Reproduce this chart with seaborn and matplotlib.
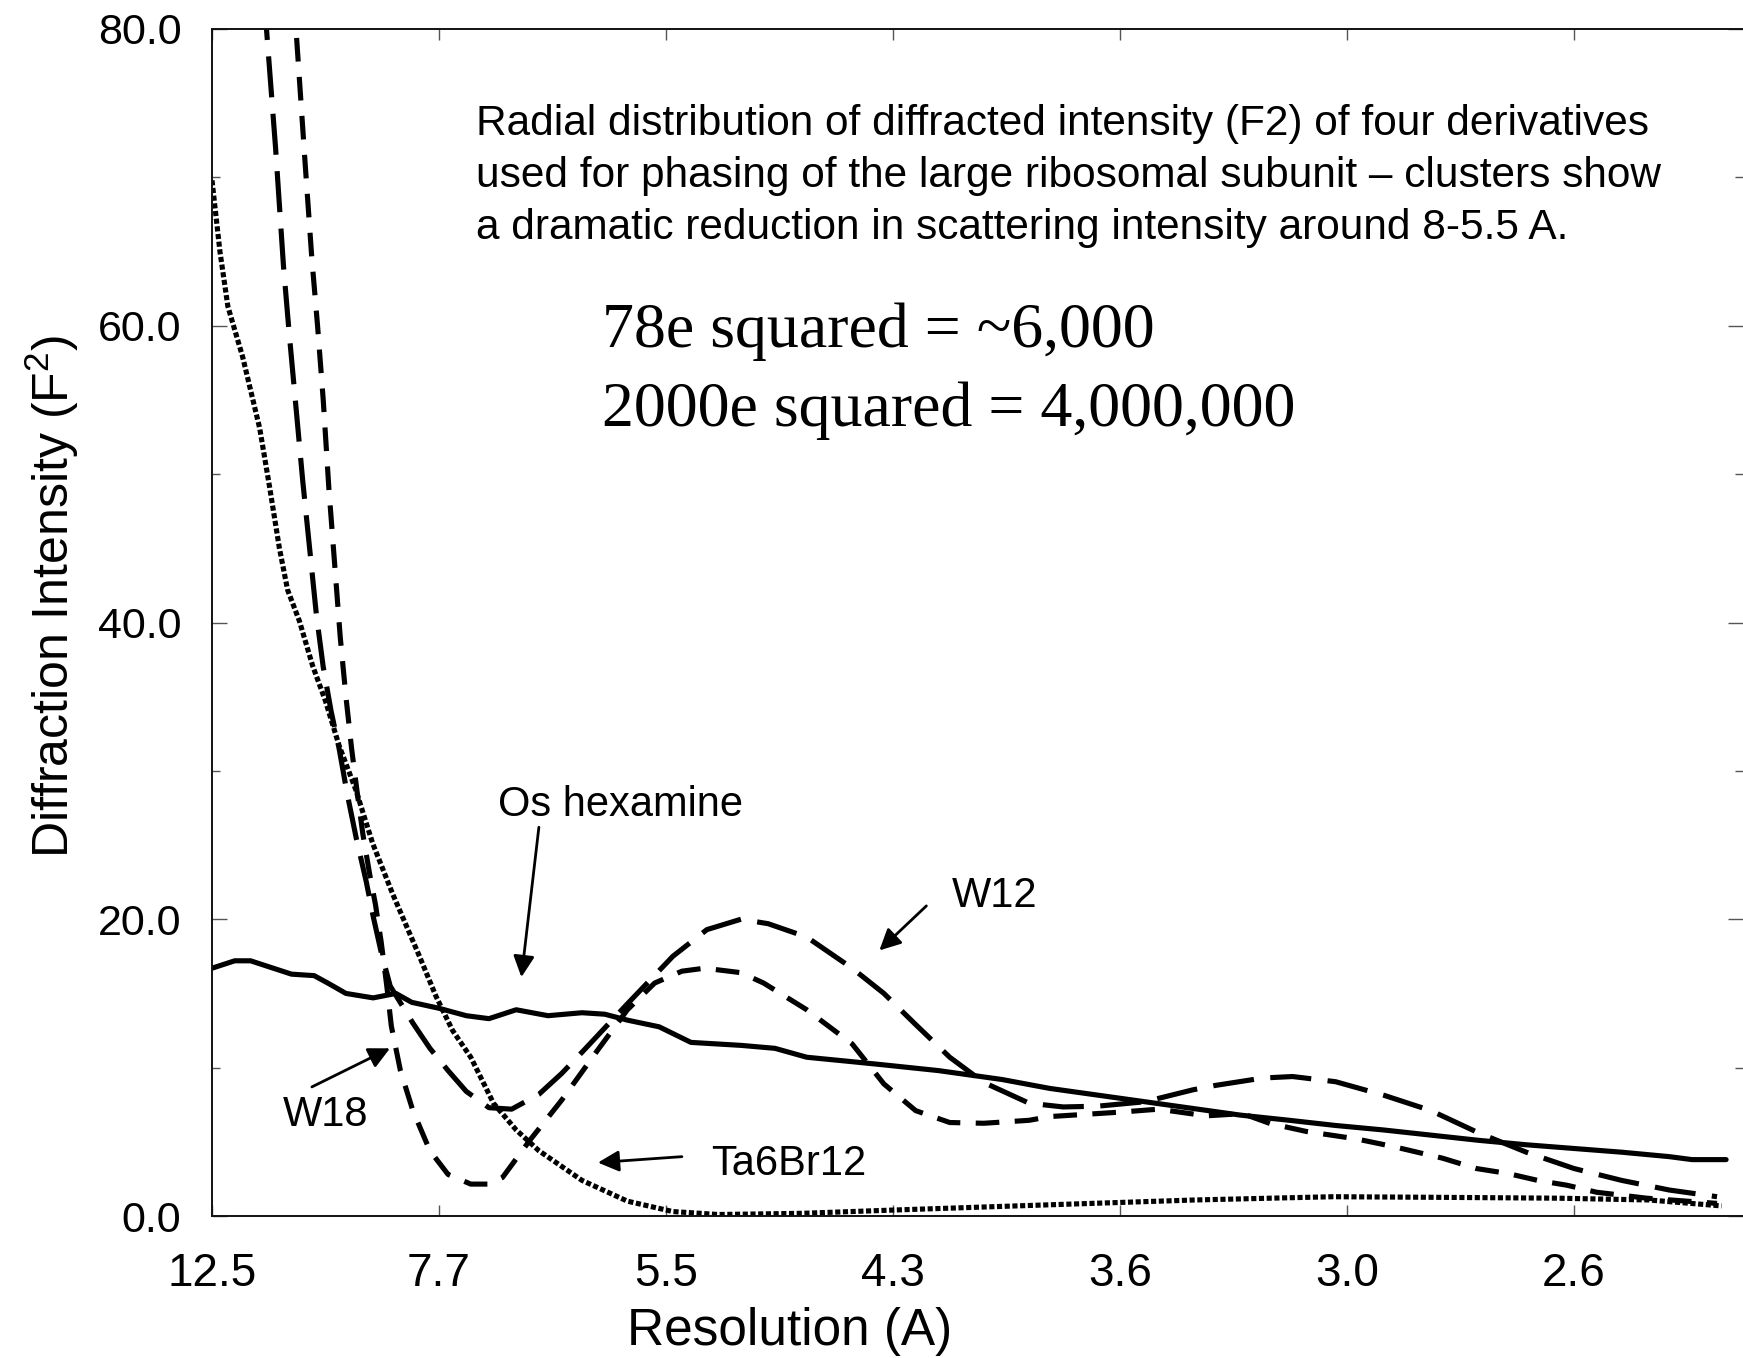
import numpy as np
import pandas as pd
import matplotlib
matplotlib.use("Agg")
import matplotlib.pyplot as plt
import seaborn as sns

# x positions are tick indices (equal steps in 1/d), labels are resolution in A
res_labels = ['12.5', '7.7', '5.5', '4.3', '3.6', '3.0', '2.6']
y_labels = ['0.0', '20.0', '40.0', '60.0', '80.0']

os_x = [0.0, 0.1, 0.17, 0.25, 0.35, 0.45, 0.51, 0.59, 0.71, 0.81, 0.88, 1.0, 1.12, 1.22,
        1.34, 1.48, 1.63, 1.73, 1.83, 1.97, 2.11, 2.33, 2.48, 2.62, 2.82, 2.95, 3.2, 3.48,
        3.69, 3.9, 4.11, 4.32, 4.53, 4.74, 4.95, 5.16, 5.37, 5.58, 5.79, 6.0, 6.21, 6.42,
        6.52, 6.67]
os_y = [16.7, 17.2, 17.2, 16.8, 16.3, 16.2, 15.7, 15.0, 14.7, 15.0, 14.4, 14.0, 13.5, 13.3,
        13.9, 13.5, 13.7, 13.6, 13.2, 12.75, 11.7, 11.5, 11.3, 10.7, 10.4, 10.2, 9.8, 9.2,
        8.6, 8.15, 7.7, 7.25, 6.8, 6.46, 6.1, 5.8, 5.45, 5.1, 4.8, 4.55, 4.3, 4.0, 3.8, 3.8]

ta_x = [0.0, 0.035, 0.07, 0.135, 0.21, 0.253, 0.297, 0.333, 0.385, 0.443, 0.5, 0.56, 0.634,
        0.708, 0.796, 0.855, 0.914, 0.987, 1.06, 1.14, 1.24, 1.34, 1.44, 1.63, 1.83, 2.03,
        2.23, 2.6, 3.0, 3.66, 4.33, 4.94, 5.39, 5.93, 6.33, 6.65]
ta_y = [69.8, 65.0, 61.3, 57.9, 53.1, 49.2, 45.0, 42.2, 40.1, 37.1, 34.7, 31.7, 28.7, 25.1,
        21.7, 19.6, 17.5, 14.8, 12.5, 10.7, 7.6, 5.8, 4.4, 2.4, 1.0, 0.3, 0.1, 0.18, 0.4,
        0.74, 1.08, 1.3, 1.26, 1.2, 1.08, 0.68]

w12_x = [0.22, 0.24, 0.28, 0.315, 0.34, 0.37, 0.40, 0.43, 0.46, 0.49, 0.525, 0.56, 0.595,
         0.635, 0.68, 0.71, 0.745, 0.785, 0.885, 0.96, 1.04, 1.12, 1.22, 1.32, 1.44, 1.54,
         1.64, 1.83, 2.03, 2.18, 2.33, 2.45, 2.62, 2.82, 2.96, 3.1, 3.25, 3.4, 3.5, 3.6,
         3.75, 3.9, 4.11, 4.32, 4.42, 4.63, 4.76, 4.95, 5.16, 5.37, 5.58, 5.79, 6.0, 6.21,
         6.42, 6.63]
w12_y = [83.5, 80.0, 72.0, 64.0, 59.5, 54.5, 49.5, 45.0, 40.5, 37.0, 34.0, 31.5, 28.5, 25.5,
         22.5, 20.2, 17.8, 15.5, 13.0, 11.3, 9.8, 8.4, 7.3, 7.2, 8.2, 9.6, 11.2, 14.3, 17.5,
         19.3, 20.0, 19.7, 18.8, 16.7, 15.0, 12.9, 10.7, 9.0, 8.3, 7.6, 7.35, 7.4, 7.7, 8.5,
         8.8, 9.3, 9.4, 9.05, 8.15, 7.1, 5.6, 4.3, 3.2, 2.4, 1.75, 1.3]

w18_x = [0.35, 0.37, 0.41, 0.44, 0.465, 0.49, 0.515, 0.54, 0.565, 0.59, 0.615, 0.64, 0.665,
         0.695, 0.72, 0.745, 0.77, 0.79, 0.83, 0.885, 0.96, 1.04, 1.14, 1.22, 1.28, 1.4,
         1.54, 1.7, 1.83, 1.95, 2.07, 2.17, 2.33, 2.43, 2.62, 2.82, 2.96, 3.1, 3.25, 3.4,
         3.6, 3.69, 4.0, 4.17, 4.38, 4.54, 4.66, 4.82, 5.04, 5.21, 5.42, 5.57, 5.71, 5.84,
         5.97, 6.1, 6.32, 6.63]
w18_y = [84.0, 80.0, 71.0, 64.5, 60.0, 55.0, 49.0, 44.0, 39.0, 35.0, 31.5, 28.5, 25.7, 23.0,
         21.0, 18.5, 15.5, 12.8, 9.8, 7.1, 4.4, 2.8, 2.15, 2.15, 2.6, 5.1, 7.8, 11.2, 13.9,
         15.7, 16.5, 16.7, 16.4, 15.7, 13.9, 11.6, 8.9, 7.1, 6.3, 6.25, 6.45, 6.7, 7.0, 7.2,
         6.75, 6.9, 6.24, 5.7, 5.2, 4.66, 3.9, 3.2, 2.86, 2.4, 2.07, 1.6, 1.2, 0.85]

df = pd.concat([
    pd.DataFrame(dict(x=os_x, y=os_y, series='Os hexamine')),
    pd.DataFrame(dict(x=ta_x, y=ta_y, series='Ta6Br12')),
    pd.DataFrame(dict(x=w12_x, y=w12_y, series='W12')),
    pd.DataFrame(dict(x=w18_x, y=w18_y, series='W18')),
], ignore_index=True)

sns.set_theme(style='ticks')
plt.rcParams['font.family'] = ['Liberation Sans', 'DejaVu Sans']
plt.rcParams['mathtext.fontset'] = 'custom'
plt.rcParams['mathtext.rm'] = 'Liberation Sans'
plt.rcParams['mathtext.it'] = 'Liberation Sans'
plt.rcParams['text.color'] = 'black'
plt.rcParams['axes.labelcolor'] = 'black'
plt.rcParams['xtick.labelcolor'] = 'black'
plt.rcParams['ytick.labelcolor'] = 'black'

fig = plt.figure(figsize=(17.43, 13.58), dpi=100)
ax = fig.add_axes([212 / 1743, 1 - 1216 / 1358, 1531 / 1743, 1187 / 1358])

palette = {k: 'black' for k in ['Os hexamine', 'Ta6Br12', 'W12', 'W18']}
dashes = {'Os hexamine': '', 'Ta6Br12': (1.0, 0.5), 'W12': (8, 3.2), 'W18': (4.6, 3.0)}
sns.lineplot(data=df, x='x', y='y', hue='series', style='series', palette=palette,
             dashes=dashes, lw=3.7, legend=False, estimator=None, sort=False, ax=ax)

ax.set_xlim(0, 1531 / 227)
ax.set_ylim(0, 80)
ax.set_xticks(range(len(res_labels)))
ax.set_xticklabels(res_labels)
ax.set_yticks([0, 20, 40, 60, 80])
ax.set_yticklabels(y_labels)
ax.set_yticks([10, 30, 50, 70], minor=True)

for s in ['left', 'bottom', 'top']:
    ax.spines[s].set_linewidth(1.4)
    ax.spines[s].set_color('#111111')
ax.spines['right'].set_visible(False)

ax.tick_params(axis='x', which='major', direction='in', length=8, width=1, color='#555555',
               top=True, labelsize=33, pad=26)
ax.tick_params(axis='y', which='major', direction='in', length=11, width=1, color='#555555',
               right=True, labelsize=31, pad=22)
ax.tick_params(axis='y', which='minor', direction='in', length=6, width=1, color='#555555',
               right=True)

ax.set_xlabel('Resolution (A)', fontsize=37)
ax.xaxis.set_label_coords((790 - 212) / 1531, -115 / 1187)
ax.xaxis.label.set_va('center')
ax.set_ylabel('Diffraction Intensity (F$^2$)', fontsize=36)
ax.yaxis.set_label_coords((52 - 212) / 1531, (1216 - 596) / 1187)
ax.yaxis.label.set_va('center')

para = ['Radial distribution of diffracted intensity (F2) of four derivatives',
        'used for phasing of the large ribosomal subunit \u2013 clusters show',
        'a dramatic reduction in scattering intensity around 8-5.5 A.']
for line, yv in zip(para, [73.6, 70.1, 66.6]):
    ax.text(1.163, yv, line, fontsize=30.5, va='center', ha='left')

ax.text(1.716, 59.6, '78e squared = ~6,000', fontsize=46, family='Liberation Serif',
        va='center', ha='left')
ax.text(1.716, 54.3, '2000e squared = 4,000,000', fontsize=46, family='Liberation Serif',
        va='center', ha='left')

arrow = dict(arrowstyle='-|>', color='black', lw=2, mutation_scale=32, shrinkA=0, shrinkB=0)
ax.text(1.26, 27.7, 'Os hexamine', fontsize=30, va='center', ha='left')
ax.annotate('', xy=(1.363, 16.1), xytext=(1.44, 26.2), arrowprops=arrow)
ax.text(3.26, 21.6, 'W12', fontsize=30, va='center', ha='left')
ax.annotate('', xy=(2.94, 17.9), xytext=(3.147, 20.9), arrowprops=arrow)
ax.text(0.31, 6.8, 'W18', fontsize=30, va='center', ha='left')
ax.annotate('', xy=(0.784, 11.3), xytext=(0.44, 8.7), arrowprops=arrow)
ax.text(2.2, 3.5, 'Ta6Br12', fontsize=30, va='center', ha='left')
ax.annotate('', xy=(1.70, 3.6), xytext=(2.07, 4.0), arrowprops=arrow)

fig.savefig('out.png', dpi=100, facecolor='white')
